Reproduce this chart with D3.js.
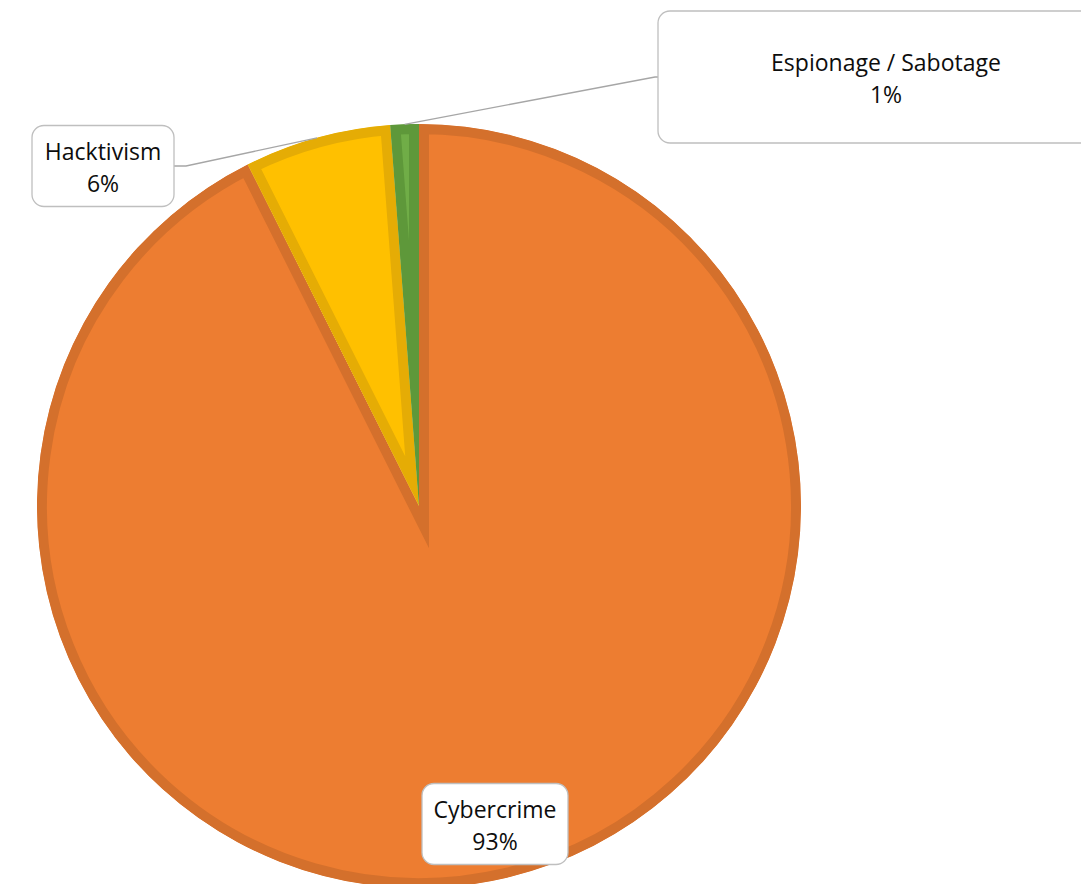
<!DOCTYPE html>
<html>
<head>
<meta charset="utf-8" />
<title>Threat actors pie</title>
<script src="https://d3js.org/d3.v7.min.js"></script>
<style>
  body { margin: 0; padding: 0; background: #fff; }
  svg { display: block; }
  .lbl text { font-family: "Open Sans", sans-serif; font-size: 23px; fill: #0d0d0d; }
  .box { fill: #fff; stroke: #bfbfbf; stroke-width: 1.3px; }
  .leader { fill: none; stroke: #a6a6a6; stroke-width: 1.3px; }
</style>
</head>
<body>
<svg id="chart" width="1081" height="884"></svg>
<script>
// data
var categories = ["Cybercrime", "Hacktivism", "Espionage / Sabotage"];
var values = [92.6, 6.2, 1.2];
var percentLabels = ["93%", "6%", "1%"];
var fills = ["#ED7D31", "#FFC000", "#70AD47"];
var borders = ["#D4702C", "#E5AC05", "#5E983A"];

var width = 1081, height = 884;
var cx = 419, cy = 506, radius = 382;
var border = 10;

var svg = d3.select("#chart");

var pie = d3.pie().sort(null).value(function(d) { return d; });
var arcs = pie(values);
var arc = d3.arc().innerRadius(0).outerRadius(radius);

var g = svg.append("g").attr("transform", "translate(" + cx + "," + cy + ")");
var defs = svg.append("defs");

// each slice: fill + border drawn only on the inside (clipped)
arcs.forEach(function(a, i) {
  defs.append("clipPath").attr("id", "clip" + i)
    .append("path").attr("d", arc(a));
});

g.selectAll("path.slice")
  .data(arcs)
  .enter().append("path")
    .attr("class", "slice")
    .attr("d", arc)
    .attr("clip-path", function(d, i) { return "url(#clip" + i + ")"; })
    .attr("fill", function(d, i) { return fills[i]; })
    .attr("stroke", function(d, i) { return borders[i]; })
    .attr("stroke-width", border * 2)
    .attr("stroke-linejoin", "miter")
    .attr("stroke-miterlimit", 10);

// label boxes (position relative to pie centre) and leader lines
var boxes = [
  { dx: 76, dy: 318, w: 146, h: 81, leader: false },
  { dx: -316, dy: -340, w: 142, h: 81, leader: true, side: "right" },
  { dx: 467, dy: -429, w: 456, h: 132, leader: true, side: "left" }
];

arcs.forEach(function(a, i) {
  var b = boxes[i];
  var bx = cx + b.dx, by = cy + b.dy;
  var mid = (a.startAngle + a.endAngle) / 2;
  if (b.leader) {
    var px = cx + radius * Math.sin(mid), py = cy - radius * Math.cos(mid);
    var ex, elbow;
    if (b.side === "right") {
      ex = bx + b.w / 2; elbow = ex + 12;
    } else {
      ex = bx - b.w / 2; elbow = ex - 3;
    }
    svg.append("path")
      .attr("class", "leader")
      .attr("d", d3.line()([[px, py], [elbow, by], [ex, by]]));
  }
  var lg = svg.append("g").attr("class", "lbl");
  lg.append("rect")
    .attr("class", "box")
    .attr("x", bx - b.w / 2)
    .attr("y", by - b.h / 2)
    .attr("width", b.w)
    .attr("height", b.h)
    .attr("rx", 12);
  lg.append("text")
    .attr("x", bx).attr("y", by - 6)
    .attr("text-anchor", "middle")
    .text(categories[i]);
  lg.append("text")
    .attr("x", bx).attr("y", by + 26)
    .attr("text-anchor", "middle")
    .text(percentLabels[i]);
});
</script>
</body>
</html>
